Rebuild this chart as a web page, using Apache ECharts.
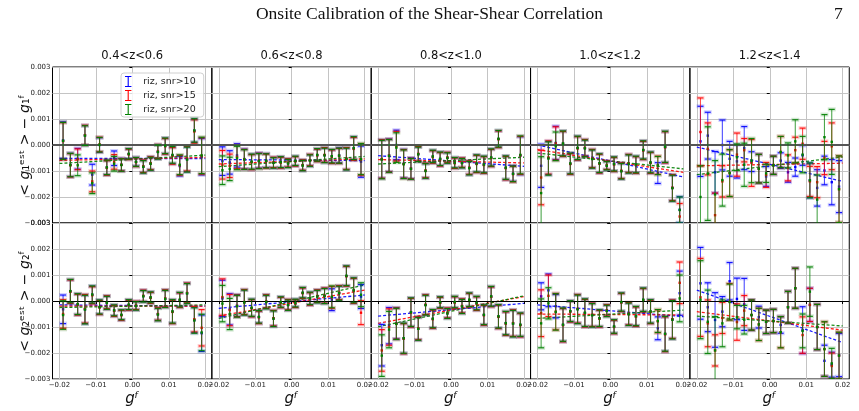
<!DOCTYPE html>
<html>
<head>
<meta charset="utf-8">
<script src="https://cdn.jsdelivr.net/npm/echarts@6/dist/echarts.min.js"></script>
<style>
html,body{margin:0;padding:0;background:#fff}
#main{width:859px;height:411px}
</style>
</head>
<body>
<div id="main"></div>
<script>
// redshift bins (columns) and the three samples
var zBins = ['0.4<z<0.6', '0.6<z<0.8', '0.8<z<1.0', '1.0<z<1.2', '1.2<z<1.4'];
var sampleNames = ['riz, snr>10', 'riz, snr>15', 'riz, snr>20'];
var sampleColors = ['#0000ff', '#ff0000', '#008000'];

// input shear g^f bin centres
var gfBins = [-0.019, -0.017, -0.015, -0.013, -0.011, -0.009, -0.007, -0.005, -0.003, -0.001,
              0.001, 0.003, 0.005, 0.007, 0.009, 0.011, 0.013, 0.015, 0.017, 0.019];
var xTicks = [-0.02, -0.01, 0.00, 0.01, 0.02];
var fitRange = [-0.02, 0.02];

// <g_est> - g_f, in units of 1e-3
// ---- g1 ----
var g1z1Blue  = [0.18, -0.77, -0.53, 0.37, -1.14, 0.00, -0.87, -0.51, -0.76, -0.35, -0.65, -0.83, -0.71, -0.26, -0.04, -0.40, -0.81, -0.55, 0.55, -0.45];
var g1z1Red   = [0.15, -0.78, -0.55, 0.38, -1.40, 0.02, -0.88, -0.65, -0.76, -0.36, -0.66, -0.82, -0.70, -0.25, -0.05, -0.42, -0.78, -0.52, 0.52, -0.42];
var g1z1Green = [0.16, -0.77, -0.78, 0.36, -1.47, 0.01, -0.86, -0.72, -0.77, -0.34, -0.65, -0.84, -0.72, -0.27, -0.03, -0.38, -0.76, -0.56, 0.56, -0.40];
var g1z1Err   = [0.71, 0.45, 0.40, 0.38, 0.40, 0.28, 0.28, 0.28, 0.24, 0.20, 0.17, 0.24, 0.25, 0.27, 0.30, 0.32, 0.38, 0.48, 0.45, 0.70];

var g1z2Blue  = [-0.62, -0.67, -0.40, -0.54, -0.65, -0.60, -0.60, -0.68, -0.67, -0.70, -0.62, -0.78, -0.59, -0.39, -0.39, -0.44, -0.40, -0.53, -0.13, -0.64];
var g1z2Red   = [-0.76, -0.80, -0.46, -0.55, -0.66, -0.61, -0.62, -0.67, -0.68, -0.69, -0.63, -0.77, -0.58, -0.40, -0.38, -0.45, -0.42, -0.52, -0.15, -0.56];
var g1z2Green = [-0.97, -0.92, -0.50, -0.56, -0.64, -0.62, -0.61, -0.69, -0.66, -0.71, -0.61, -0.79, -0.60, -0.38, -0.40, -0.43, -0.41, -0.54, -0.12, -0.54];
var g1z2Err   = [0.55, 0.45, 0.45, 0.38, 0.29, 0.29, 0.27, 0.20, 0.21, 0.16, 0.18, 0.20, 0.22, 0.24, 0.28, 0.26, 0.29, 0.42, 0.44, 0.60];

var g1z3Blue  = [-0.54, -0.40, 0.00, -0.72, -0.90, -0.35, -0.99, -0.45, -0.54, -0.49, -0.69, -0.69, -0.88, -0.72, -0.76, -0.49, 0.23, -0.88, -1.10, -0.41];
var g1z3Red   = [-0.54, -0.41, -0.05, -0.73, -0.91, -0.34, -0.98, -0.46, -0.55, -0.48, -0.70, -0.68, -0.87, -0.73, -0.77, -0.50, 0.22, -0.89, -1.12, -0.40];
var g1z3Green = [-0.56, -0.42, -0.10, -0.74, -0.92, -0.36, -1.00, -0.44, -0.53, -0.50, -0.68, -0.70, -0.89, -0.71, -0.75, -0.48, 0.24, -0.87, -1.11, -0.38];
var g1z3Err   = [0.74, 0.63, 0.57, 0.55, 0.40, 0.28, 0.28, 0.24, 0.26, 0.20, 0.20, 0.18, 0.26, 0.33, 0.32, 0.33, 0.32, 0.45, 0.30, 0.73];

var g1z4Blue  = [-0.80, -0.50, 0.08, 0.05, -0.72, -0.12, -0.12, -0.53, -0.71, -0.79, -0.74, -1.00, -0.72, -0.76, -0.20, -0.68, -1.08, -0.08, -1.65, -2.49];
var g1z4ErrB  = [0.83, 0.64, 0.64, 0.48, 0.40, 0.45, 0.32, 0.35, 0.36, 0.16, 0.27, 0.30, 0.35, 0.32, 0.35, 0.40, 0.40, 0.60, 0.50, 0.50];
var g1z4Red   = [-1.25, -0.48, 0.06, 0.04, -0.73, -0.13, -0.11, -0.52, -0.72, -0.78, -0.75, -0.99, -0.71, -0.77, -0.21, -0.69, -0.78, -0.09, -1.64, -2.75];
var g1z4ErrR  = [1.05, 0.64, 0.64, 0.48, 0.40, 0.45, 0.32, 0.35, 0.36, 0.16, 0.27, 0.30, 0.35, 0.32, 0.35, 0.40, 0.35, 0.60, 0.50, 0.50];
var g1z4Green = [-1.85, -0.52, -0.05, 0.06, -0.71, -0.11, -0.13, -0.54, -0.70, -0.80, -0.73, -1.01, -0.73, -0.75, -0.19, -0.67, -0.79, -0.07, -1.66, -2.50];
var g1z4ErrG  = [1.40, 0.64, 0.55, 0.48, 0.40, 0.45, 0.32, 0.35, 0.36, 0.16, 0.27, 0.30, 0.35, 0.32, 0.35, 0.40, 0.35, 0.60, 0.50, 0.50];

var g1z5Blue  = [0.14, 0.36, -1.05, 0.00, -0.53, -0.63, -0.12, -0.64, -0.91, -1.21, -0.78, -0.60, -1.05, -0.85, -0.40, -1.36, -1.65, -0.98, -1.43, -1.60];
var g1z5ErrB  = [1.35, 0.90, 0.80, 0.96, 0.67, 0.64, 0.83, 0.38, 0.55, 0.38, 0.35, 0.30, 0.38, 0.35, 0.38, 0.67, 0.70, 0.55, 0.87, 1.00];
var g1z5Red   = [0.50, -0.15, -2.70, -1.40, -1.08, -0.37, -0.20, -0.69, -0.91, -1.15, -0.78, -0.27, -0.88, -0.20, 0.05, -1.40, -1.43, -0.50, -0.05, -1.70];
var g1z5ErrR  = [1.31, 1.00, 0.85, 0.60, 0.90, 0.83, 0.45, 0.90, 0.55, 0.48, 0.35, 0.60, 0.50, 0.50, 0.60, 0.58, 0.60, 0.64, 0.90, 1.28];
var g1z5Green = [-2.00, -1.10, -1.90, -1.35, -1.08, -0.47, -0.76, -0.60, -0.91, -1.09, -0.78, -0.27, -0.40, 0.14, -0.37, -1.36, -2.10, 0.30, 0.12, -1.70];
var g1z5ErrG  = [1.20, 1.80, 1.30, 1.00, 0.90, 0.51, 0.83, 0.85, 0.55, 0.35, 0.35, 0.60, 0.48, 0.83, 0.70, 0.67, 0.95, 0.87, 1.25, 1.28];

// ---- g2 ----
var g2z1Blue  = [-0.32, 0.37, -0.13, -0.32, 0.24, -0.24, -0.06, -0.37, -0.54, -0.15, -0.18, 0.19, 0.13, -0.51, 0.09, -0.41, 0.04, 0.30, -0.73, -1.24];
var g2z1Red   = [-0.50, 0.36, -0.14, -0.30, 0.22, -0.25, -0.05, -0.38, -0.55, -0.16, -0.17, 0.20, 0.12, -0.50, 0.10, -0.42, 0.03, 0.31, -0.70, -1.03];
var g2z1Green = [-0.54, 0.38, -0.12, -0.33, 0.25, -0.23, -0.07, -0.36, -0.53, -0.14, -0.19, 0.18, 0.14, -0.52, 0.08, -0.40, 0.05, 0.29, -0.75, -1.21];
var g2z1Err   = [0.55, 0.45, 0.40, 0.55, 0.33, 0.27, 0.25, 0.21, 0.19, 0.19, 0.16, 0.22, 0.21, 0.24, 0.33, 0.45, 0.28, 0.38, 0.49, 0.70];

var g2z2Blue  = [0.10, -0.32, -0.18, -0.05, -0.27, -0.62, -0.03, -0.67, -0.05, -0.15, -0.09, 0.31, 0.09, 0.18, 0.20, 0.05, 0.31, 0.96, 0.40, 0.17];
var g2z2Red   = [0.15, -0.35, -0.19, -0.04, -0.28, -0.63, -0.02, -0.66, -0.06, -0.14, -0.10, 0.30, 0.08, 0.19, 0.21, 0.14, 0.32, 0.95, 0.39, -0.45];
var g2z2Green = [-0.10, -0.50, -0.20, -0.06, -0.26, -0.61, -0.04, -0.68, -0.04, -0.16, -0.08, 0.32, 0.10, 0.17, 0.19, 0.16, 0.30, 0.97, 0.41, 0.24];
var g2z2Err   = [0.70, 0.60, 0.42, 0.48, 0.33, 0.24, 0.26, 0.30, 0.20, 0.20, 0.15, 0.20, 0.24, 0.24, 0.29, 0.42, 0.27, 0.38, 0.48, 0.46];

var g2z3Blue  = [-1.70, -0.95, -0.86, -1.44, -0.44, -1.06, -0.15, -0.69, -0.06, -0.47, -0.05, -0.20, 0.04, -0.09, -0.54, 0.17, -0.60, -0.86, -0.86, -0.92];
var g2z3Red   = [-1.90, -1.00, -0.87, -1.45, -0.45, -1.05, -0.14, -0.70, -0.07, -0.46, -0.06, -0.19, 0.03, -0.10, -0.55, 0.16, -0.61, -0.87, -0.85, -0.93];
var g2z3Green = [-2.10, -1.10, -0.88, -1.43, -0.43, -1.07, -0.16, -0.68, -0.05, -0.48, -0.04, -0.21, 0.05, -0.08, -0.53, 0.18, -0.59, -0.85, -0.87, -0.91];
var g2z3Err   = [0.80, 0.70, 0.60, 0.58, 0.55, 0.44, 0.38, 0.35, 0.21, 0.19, 0.22, 0.27, 0.26, 0.26, 0.38, 0.38, 0.45, 0.45, 0.51, 0.45];

var g2z4Blue  = [0.18, 0.41, -0.20, -0.92, -0.40, -0.31, -0.46, -0.54, -0.67, -0.37, -0.99, -0.05, -0.50, -0.59, 0.04, -0.41, -1.05, -1.27, -0.71, 0.30];
var g2z4ErrB  = [0.52, 0.63, 0.45, 0.64, 0.40, 0.55, 0.53, 0.45, 0.32, 0.22, 0.26, 0.35, 0.43, 0.37, 0.45, 0.45, 0.44, 0.67, 0.74, 0.85];
var g2z4Red   = [-0.47, 0.20, -0.41, -0.93, -0.41, -0.30, -0.47, -0.53, -0.68, -0.36, -1.00, -0.06, -0.49, -0.60, 0.03, -0.42, -0.78, -1.28, -0.70, 0.70];
var g2z4ErrR  = [0.90, 0.80, 0.70, 0.64, 0.40, 0.55, 0.53, 0.45, 0.32, 0.22, 0.26, 0.35, 0.43, 0.37, 0.45, 0.45, 0.44, 0.67, 0.74, 0.80];
var g2z4Green = [-0.86, -0.09, -0.42, -0.91, -0.39, -0.32, -0.45, -0.55, -0.66, -0.38, -0.98, -0.04, -0.51, -0.58, 0.05, -0.40, -0.77, -1.26, -0.72, 0.10];
var g2z4ErrG  = [0.94, 0.60, 0.70, 0.64, 0.40, 0.55, 0.53, 0.45, 0.32, 0.22, 0.26, 0.35, 0.43, 0.37, 0.45, 0.45, 0.44, 0.67, 0.74, 0.90];

var g2z5Blue  = [0.68, -0.24, -0.73, -0.41, 0.76, 0.08, -0.13, -0.54, -0.62, -0.80, -0.77, -0.92, -0.24, 0.49, -1.12, -0.15, -1.00, -2.30, -2.45, -2.08];
var g2z5ErrB  = [1.38, 0.94, 1.05, 0.58, 0.72, 0.80, 1.00, 0.58, 0.42, 0.45, 0.45, 0.32, 0.61, 0.77, 0.90, 0.64, 0.87, 0.60, 0.48, 0.83];
var g2z5Red   = [0.14, -0.86, -1.90, -0.65, -0.03, -0.81, -0.37, -0.54, -0.90, -0.80, -0.77, -1.20, -0.24, 0.49, -1.31, -0.15, -1.00, -1.85, -2.50, -2.10];
var g2z5ErrR  = [1.50, 0.90, 0.60, 0.60, 0.70, 0.70, 0.58, 0.58, 0.62, 0.45, 0.45, 0.60, 0.61, 0.77, 0.70, 0.64, 0.87, 1.05, 0.50, 0.90];
var g2z5Green = [0.05, -0.80, -1.90, -0.86, -0.04, -0.62, -0.72, -0.54, -0.90, -0.80, -0.77, -1.20, -0.24, 0.49, -1.15, 0.36, -1.00, -1.85, -2.40, -2.10];
var g2z5ErrG  = [1.50, 1.22, 1.30, 0.90, 0.69, 0.45, 0.55, 0.58, 0.62, 0.45, 0.45, 0.60, 0.61, 0.77, 0.65, 0.95, 0.87, 1.05, 0.58, 0.90];

// linear fits: value at g^f = -0.02 and +0.02 (1e-3), one pair per z bin
var g1FitBlue  = [[-0.52, -0.52], [-0.56, -0.60], [-0.41, -0.82], [0.00, -1.23], [-0.08, -1.40]];
var g1FitRed   = [[-0.59, -0.48], [-0.73, -0.53], [-0.56, -0.69], [-0.18, -1.05], [-0.80, -0.70]];
var g1FitGreen = [[-0.71, -0.39], [-0.83, -0.44], [-0.73, -0.47], [-0.31, -0.92], [-1.14, -0.46]];
var g2FitBlue  = [[-0.15, -0.20], [-0.28, 0.23], [-0.58, -0.09], [-0.15, -0.60], [0.42, -1.60]];
var g2FitRed   = [[-0.20, -0.20], [-0.58, 0.42], [-0.86, 0.17], [-0.50, -0.54], [-0.41, -1.12]];
var g2FitGreen = [[-0.25, -0.15], [-0.67, 0.62], [-0.99, 0.20], [-0.67, -0.35], [-0.58, -0.96]];

// which arrays go in which panel: [values, errors] for blue, red, green
var rows = [
  [
    [[g1z1Blue, g1z1Err], [g1z1Red, g1z1Err], [g1z1Green, g1z1Err]],
    [[g1z2Blue, g1z2Err], [g1z2Red, g1z2Err], [g1z2Green, g1z2Err]],
    [[g1z3Blue, g1z3Err], [g1z3Red, g1z3Err], [g1z3Green, g1z3Err]],
    [[g1z4Blue, g1z4ErrB], [g1z4Red, g1z4ErrR], [g1z4Green, g1z4ErrG]],
    [[g1z5Blue, g1z5ErrB], [g1z5Red, g1z5ErrR], [g1z5Green, g1z5ErrG]]
  ],
  [
    [[g2z1Blue, g2z1Err], [g2z1Red, g2z1Err], [g2z1Green, g2z1Err]],
    [[g2z2Blue, g2z2Err], [g2z2Red, g2z2Err], [g2z2Green, g2z2Err]],
    [[g2z3Blue, g2z3Err], [g2z3Red, g2z3Err], [g2z3Green, g2z3Err]],
    [[g2z4Blue, g2z4ErrB], [g2z4Red, g2z4ErrR], [g2z4Green, g2z4ErrG]],
    [[g2z5Blue, g2z5ErrB], [g2z5Red, g2z5ErrR], [g2z5Green, g2z5ErrG]]
  ]
];
var rowFits = [[g1FitBlue, g1FitRed, g1FitGreen], [g2FitBlue, g2FitRed, g2FitGreen]];
var rowLabels = [
  '{n|< }{i|g}{s|\u2081\u1d49\u02e2\u1d57}{n| > \u2212 }{i|g}{s|\u2081\u1da0}',
  '{n|< }{i|g}{s|\u2082\u1d49\u02e2\u1d57}{n| > \u2212 }{i|g}{s|\u2082\u1da0}'
];

var GRID_LEFT = 52.5, GRID_TOP = 67, GRID_W = 159.35, GRID_H = 156;
var FONT = 'DejaVu Sans';

function minus(s) { return s.replace('-', '\u2212'); }

function errorBar(color) {
  return function (params, api) {
    var x = api.value(0), y = api.value(1), e = api.value(2);
    var mid = api.coord([x, y]);
    var top = api.coord([x, y + e]);
    var bot = api.coord([x, y - e]);
    var hw = 3;
    var kids = [{
      type: 'line',
      shape: { x1: mid[0], y1: top[1], x2: mid[0], y2: bot[1] },
      style: { stroke: color, lineWidth: 1.1, opacity: 0.7 }
    }];
    [top[1], bot[1]].forEach(function (cy) {
      kids.push({ type: 'rect', shape: { x: mid[0] - hw - 1, y: cy - 2, width: 2 * hw + 2, height: 4 },
                  style: { fill: color, opacity: 0.18 } });
      kids.push({ type: 'line', shape: { x1: mid[0] - hw, y1: cy, x2: mid[0] + hw, y2: cy },
                  style: { stroke: color, lineWidth: 1.2, opacity: 0.9 } });
    });
    kids.push({ type: 'rect', shape: { x: mid[0] - 1.2, y: mid[1] - 1.2, width: 2.4, height: 2.4 },
                style: { fill: color } });
    return { type: 'group', children: kids };
  };
}

var grids = [], xAxes = [], yAxes = [], series = [], graphics = [];

rows.forEach(function (panels, r) {
  panels.forEach(function (panel, c) {
    var idx = grids.length;
    grids.push({
      left: GRID_LEFT + c * GRID_W, top: GRID_TOP + r * GRID_H,
      width: GRID_W, height: GRID_H,
      show: true, borderColor: '#000', borderWidth: 1
    });
    xAxes.push({
      gridIndex: idx, type: 'value', min: -0.0219, max: 0.0218,
      axisLine: { show: false },
      axisTick: { show: r === 1, length: 3, customValues: xTicks, lineStyle: { color: '#000' } },
      axisLabel: {
        show: r === 1, customValues: xTicks, fontSize: 7, margin: 3, color: '#222', fontFamily: FONT,
        formatter: function (v) { return minus(v.toFixed(2)); }
      },
      splitLine: { show: true, lineStyle: { color: '#c4c4c4', width: 1 } },
      name: r === 1 ? 'g\u1da0' : '', nameLocation: 'middle', nameGap: 13,
      nameTextStyle: { fontSize: 15, fontStyle: 'italic', fontFamily: FONT, color: '#111' }
    });
    yAxes.push({
      gridIndex: idx, type: 'value', min: -3, max: 3, interval: 1,
      axisLine: { show: false },
      axisTick: { show: true, length: 3, lineStyle: { color: '#000' } },
      axisLabel: {
        show: c === 0, fontSize: 7, margin: 2, color: '#222', fontFamily: FONT,
        formatter: function (v) { return minus((v * 1e-3).toFixed(3)); }
      },
      splitLine: { show: true, lineStyle: { color: '#c4c4c4', width: 1 } },
      name: c === 0 ? rowLabels[r] : '', nameLocation: 'middle', nameRotate: 90, nameGap: 20,
      nameMoveOverlap: false,
      nameTextStyle: {
        fontSize: 14, fontFamily: FONT, color: '#111',
        rich: {
          n: { fontSize: 14, fontFamily: FONT, color: '#111' },
          i: { fontSize: 14, fontFamily: FONT, fontStyle: 'italic', color: '#111' },
          s: { fontSize: 14, fontFamily: FONT, color: '#111' }
        }
      }
    });

    // fitted lines (dashed), the first one also carries the zero line
    rowFits[r].forEach(function (fits, k) {
      var s = {
        type: 'line', name: 'fit ' + sampleNames[k], xAxisIndex: idx, yAxisIndex: idx,
        data: [[fitRange[0], fits[c][0]], [fitRange[1], fits[c][1]]],
        symbol: 'none', silent: true, z: 2,
        lineStyle: { color: sampleColors[k], width: 1.3, type: [3, 2], opacity: 0.9 }
      };
      if (k === 0) {
        s.markLine = {
          silent: true, symbol: 'none', label: { show: false },
          lineStyle: { color: r === 0 ? '#555' : '#000', width: r === 0 ? 2 : 1.2, type: 'solid' },
          data: [{ yAxis: 0 }]
        };
      }
      series.push(s);
    });

    // error bars for the three samples
    panel.forEach(function (pair, k) {
      series.push({
        type: 'custom', name: sampleNames[k], xAxisIndex: idx, yAxisIndex: idx,
        clip: true, z: 3 + k,
        itemStyle: { color: sampleColors[k] },
        encode: { x: 0, y: 1 },
        data: gfBins.map(function (g, i) { return [g, pair[0][i], pair[1][i]]; }),
        renderItem: errorBar(sampleColors[k])
      });
    });

    if (r === 0) {
      graphics.push({
        type: 'text', x: GRID_LEFT + (c + 0.5) * GRID_W, y: 56,
        style: { text: zBins[c], font: '11.5px "DejaVu Sans"', fill: '#111',
                 textAlign: 'center', textVerticalAlign: 'middle' }
      });
    }
  });
});

graphics.push({
  type: 'text', left: 'center', top: 5,
  style: { text: 'Onsite Calibration of the Shear-Shear Correlation', font: '17.5px "Liberation Serif"', fill: '#111' }
});
graphics.push({
  type: 'text', x: 834, y: 5,
  style: { text: '7', font: '17.5px "Liberation Serif"', fill: '#111' }
});

var ibeam = 'path://M0,0h7v1.2h-2.9v9.6h2.9v1.2h-7v-1.2h2.9v-9.6h-2.9z';

var myChart = echarts.init(document.getElementById('main'));
myChart.setOption({
  animation: false,
  backgroundColor: '#fff',
  grid: grids,
  xAxis: xAxes,
  yAxis: yAxes,
  legend: {
    left: 121, top: 73, orient: 'vertical',
    itemWidth: 20, itemHeight: 11, itemGap: 3,
    padding: [3, 8, 2, 4],
    backgroundColor: 'rgba(255,255,255,0.85)', borderColor: '#d0d0d0', borderWidth: 1, borderRadius: 3,
    textStyle: { fontSize: 9.5, fontFamily: FONT, color: '#222' },
    data: sampleNames.map(function (n) { return { name: n, icon: ibeam }; })
  },
  graphic: graphics,
  series: series
});
window.addEventListener('resize', function () { myChart.resize(); });
</script>
</body>
</html>
